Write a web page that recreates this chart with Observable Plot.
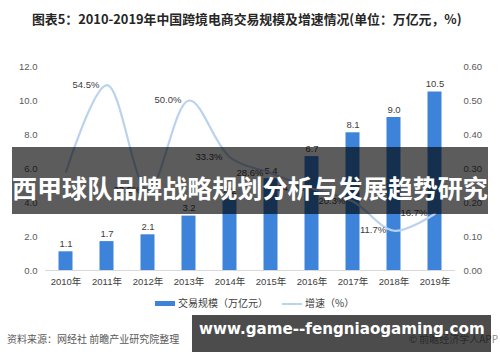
<!DOCTYPE html>
<html><head><meta charset="utf-8">
<script src="https://cdn.jsdelivr.net/npm/d3@7"></script>
<script src="https://cdn.jsdelivr.net/npm/@observablehq/plot@0.6"></script>
<style>
html,body{margin:0;padding:0;background:#fff}
body{width:500px;height:362px;position:relative;overflow:hidden;font-family:"Liberation Sans","Noto Sans CJK SC",sans-serif}
#chart{position:absolute;left:0;top:0}
.abs{position:absolute;white-space:nowrap;line-height:1}
#title{left:32px;top:13px;font-weight:bold;font-size:13px;color:#262626;font-family:"Noto Sans CJK SC",sans-serif}
.leg{font-size:10px;color:#404040;font-family:"Noto Sans CJK SC",sans-serif}
#source{left:7px;top:334px;font-size:10px;color:#595959;font-family:"Noto Sans CJK SC",sans-serif}
#app{right:2px;top:334px;font-size:10px;color:#8c8c8c;font-family:"Noto Sans CJK SC",sans-serif}
#banner{left:12px;top:147px;width:476px;height:67px;background:rgba(0,0,0,0.64)}
#bannerText{left:12px;top:175px;color:#fff;font-weight:bold;font-size:25px;font-family:"Noto Sans CJK SC",sans-serif}
#wm{left:192px;top:315px;width:299px;height:37px;background:rgba(0,0,0,0.7)}
#wmText{left:199px;top:322px;color:#fff;font-weight:bold;font-size:20px;font-family:"DejaVu Sans",sans-serif}
</style></head>
<body>
<div id="chart"></div>
<div id="title" class="abs" data-w="430">图表5：2010-2019年中国跨境电商交易规模及增速情况(单位：万亿元，%)</div>
<div class="abs" style="left:155px;top:301px;width:20px;height:5px;background:#3c83d9"></div>
<div class="abs leg" style="left:178px;top:298px">交易规模（万亿元）</div>
<div class="abs" style="left:282px;top:303px;width:20px;height:2px;background:#b9d2ee"></div>
<div class="abs leg" style="left:305px;top:298px">增速（%）</div>
<div id="source" class="abs">资料来源：网经社 前瞻产业研究院整理</div>
<div id="app" class="abs">© 前瞻经济学人APP</div>
<div id="banner" class="abs"></div>
<div id="bannerText" class="abs" data-w="476">西甲球队品牌战略规划分析与发展趋势研究</div>
<div id="wm" class="abs"></div>
<div id="wmText" class="abs" data-w="286">www.game--fengniaogaming.com</div>
<script>
const years = ["2010年","2011年","2012年","2013年","2014年","2015年","2016年","2017年","2018年","2019年"];
const scale = [1.1, 1.7, 2.1, 3.2, 4.2, 5.4, 6.7, 8.1, 9.0, 10.5];
const growth = [0.29, 0.545, 0.235, 0.50, 0.333, 0.286, 0.241, 0.203, 0.117, 0.167];
const growthLabels = ["", "54.5%", "23.5%", "50.0%", "33.3%", "28.6%", "24.1%", "20.3%", "11.7%", "16.7%"];
const leftTicks = [0, 2, 4, 6, 8, 10, 12];

const RATIO = 20; // right axis 0.60 <-> left axis 12
const rows = years.map((y, i) => ({year: y, value: scale[i], g: growth[i] * RATIO, gl: growthLabels[i], i}));

const chart = Plot.plot({
  width: 500, height: 295,
  marginLeft: 45, marginRight: 45, marginTop: 66, marginBottom: 25,
  style: {fontFamily: "'Liberation Sans','Noto Sans CJK SC',sans-serif", fontSize: "9.5px", color: "#595959", background: "transparent"},
  x: {type: "band", domain: years, padding: 0, label: null},
  y: {domain: [0, 12], label: null},
  marks: [
    Plot.ruleY([0], {stroke: "#d9d9d9"}),
    Plot.barY(rows, {x: "year", y: "value", fill: "#3c83d9", insetLeft: 13.5, insetRight: 13.5}),
    Plot.text(rows, {x: "year", y: "value", text: d => d.value.toFixed(1), dy: -8, fill: "#404040", fontSize: 9.5}),
    Plot.line(rows, {x: "year", y: "g", curve: "catmull-rom", stroke: "#b9d2ee", strokeWidth: 2.2}),
    Plot.text(rows.filter(d => d.gl), {x: "year", y: "g", text: "gl", fill: "#404040", fontSize: 9.5,
      dx: d => d.i === 1 ? -17 : 0, dy: d => d.i === 1 ? -9 : 13}),
    Plot.axisY(leftTicks, {anchor: "left", label: null, tickSize: 0, tickPadding: 8, tickFormat: d => d.toFixed(1), fill: "#595959"}),
    Plot.axisY(leftTicks, {anchor: "right", label: null, tickSize: 0, tickPadding: 8, tickFormat: d => (d / RATIO).toFixed(2), fill: "#595959"}),
    Plot.axisX({label: null, tickSize: 0, tickPadding: 8, fill: "#404040"})
  ]
});
document.getElementById("chart").appendChild(chart);

// fit text widths
document.querySelectorAll("[data-w]").forEach(el => {
  const target = +el.dataset.w;
  const fs = parseFloat(getComputedStyle(el).fontSize);
  const w = el.getBoundingClientRect().width;
  if (w > 0) el.style.fontSize = (fs * target / w) + "px";
});
</script>
</body></html>
